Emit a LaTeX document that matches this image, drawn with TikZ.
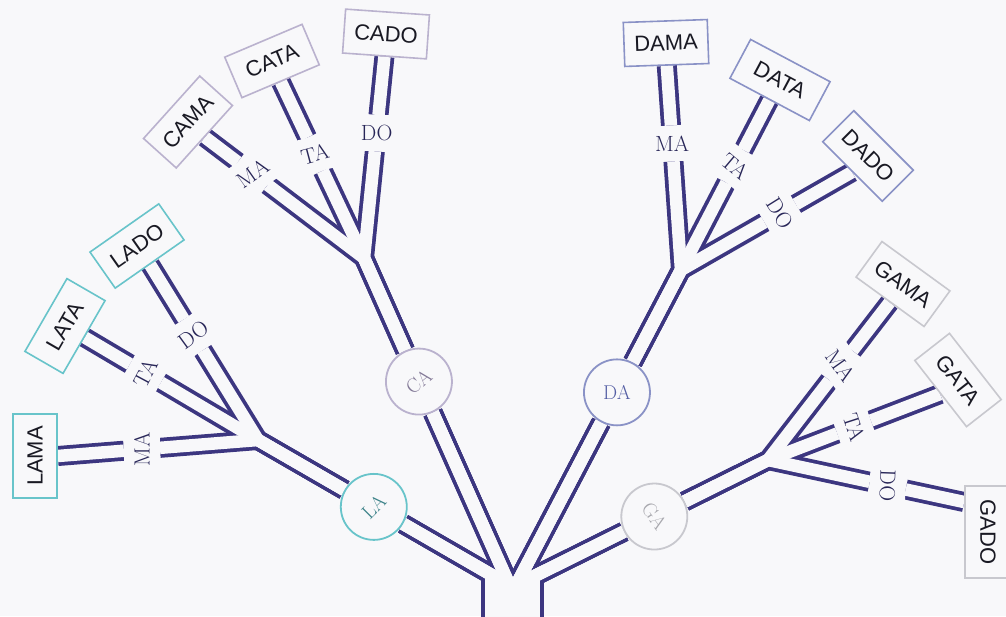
\documentclass[tikz,border=0pt]{standalone}
\usepackage{fontspec}
\newfontfamily\boxfont{Liberation Sans}
\usetikzlibrary{calc}
\pgfdeclarelayer{roadlayer}
\pgfsetlayers{roadlayer,main}
\definecolor{paper}{RGB}{248,248,250}
\definecolor{ink}{RGB}{60,54,128}
\definecolor{lacol}{RGB}{104,196,202}
\definecolor{cacol}{RGB}{186,178,206}
\definecolor{dacol}{RGB}{138,146,198}
\definecolor{gacol}{RGB}{200,200,206}
\definecolor{latext}{RGB}{60,130,136}
\definecolor{catext}{RGB}{130,120,150}
\definecolor{datext}{RGB}{84,94,164}
\definecolor{gatext}{RGB}{168,168,174}
\definecolor{boxtext}{RGB}{25,25,35}
\definecolor{labcol}{RGB}{40,38,88}
\tikzset{
  navyroad/.style={draw=ink, line width=20pt, line cap=butt, line join=round},
  paperroad/.style={draw=paper, line width=12.5pt, line cap=butt, line join=round},
  trunknavy/.style={draw=ink, line width=63pt, line cap=butt},
  trunkpaper/.style={draw=paper, line width=55.5pt, line cap=butt},
  leaf/.style={draw=#1, line width=1.6pt, fill=paper, minimum width=84pt, minimum height=44pt, inner sep=2pt, text=boxtext, font=\boxfont\fontsize{22}{24}\selectfont},
  hub/.style={circle, draw=#1, line width=1.8pt, fill=paper, minimum size=66pt, inner sep=0pt, font=\fontsize{20}{22}\selectfont},
  roadlab/.style={fill=paper, inner xsep=2pt, inner ysep=10pt, text=labcol, font=\fontsize{22}{24}\selectfont},
}
\newcommand\roadnet[1]{%
  \draw[#1] (j2) -- (la) -- (fla) -- (lmaL) -- (lama.south);
  \draw[#1] (j2) -- (la) -- (fla) -- (ltaL) -- (lata.south);
  \draw[#1] (j2) -- (la) -- (fla) -- (ldoL) -- (lado.south);
  \draw[#1] (j1) -- (ca) -- (fca) -- (cmaL) -- (cama.south);
  \draw[#1] (j1) -- (ca) -- (fca) -- (ctaL) -- (cata.south);
  \draw[#1] (j1) -- (ca) -- (fca) -- (cdoL) -- (cado.south);
  \draw[#1] (j1) -- (da) -- (fda) -- (dmaL) -- (dama.south);
  \draw[#1] (j1) -- (da) -- (fda) -- (dtaL) -- (data.south);
  \draw[#1] (j1) -- (da) -- (fda) -- (ddoL) -- (dado.south);
  \draw[#1] (j2) -- (ga) -- (fga) -- (gmaL) -- (gama.south);
  \draw[#1] (j2) -- (ga) -- (fga) -- (gtaL) -- (gata.south);
  \draw[#1] (j2) -- (ga) -- (fga) -- (gdoL) -- (gadoin);
}
\begin{document}
\begin{tikzpicture}[x=1pt,y=-1pt]
\useasboundingbox (0,0) rectangle (1006,616);
% junctions and forks
\coordinate (tb) at (512.5,640);
\coordinate (tt) at (512.5,578);
\coordinate (j1) at (512.5,592);
\coordinate (j2) at (512.5,587);
\coordinate (fla) at (258,440);
\coordinate (fca) at (364,258);
\coordinate (fda) at (681,270);
\coordinate (fga) at (768,460);
% hubs
\node[hub=lacol, text=latext, rotate=45] (la) at ($(j2)!0.545!(fla)$) {LA};
\node[hub=cacol, text=catext, rotate=40] (ca) at ($(j1)!0.63!(fca)$) {CA};
\node[hub=dacol, text=datext] (da) at ($(j1)!0.62!(fda)$) {DA};
\node[hub=gacol, text=gatext, rotate=-55] (ga) at ($(j2)!0.555!(fga)$) {GA};
% leaves
\node[leaf=lacol, rotate=90] (lama) at (35,456) {LAMA};
\node[leaf=lacol, rotate=60] (lata) at (65,326) {LATA};
\node[leaf=lacol, rotate=35] (lado) at (137,246) {LADO};
\node[leaf=cacol, rotate=48] (cama) at (188,122) {CAMA};
\node[leaf=cacol, rotate=23] (cata) at (272,61) {CATA};
\node[leaf=cacol, rotate=-4] (cado) at (386,34) {CADO};
\node[leaf=dacol, rotate=2] (dama) at (666,43) {DAMA};
\node[leaf=dacol, rotate=-28, minimum width=90pt] (data) at (780,80) {DATA};
\node[leaf=dacol, rotate=-45] (dado) at (868,156) {DADO};
\node[leaf=gacol, rotate=-36] (gama) at (903,284) {GAMA};
\node[leaf=gacol, rotate=-52] (gata) at (958,380) {GATA};
\node[leaf=gacol, rotate=-90, minimum width=92pt, minimum height=46pt] (gado) at (988,532) {GADO};
\coordinate (gadoin) at ($(gado.south west)!0.18!(gado.south east)$);
% road labels
\node[roadlab, rotate=90] (lmaL) at ($(fla)!0.58!(lama.south)$) {MA};
\node[roadlab, rotate=62] (ltaL) at ($(fla)!0.65!(lata.south)$) {TA};
\node[roadlab, rotate=36] (ldoL) at ($(fla)!0.6!(lado.south)$) {DO};
\node[roadlab, rotate=35] (cmaL) at ($(fca)!0.7!(cama.south)$) {MA};
\node[roadlab, rotate=15] (ctaL) at ($(fca)!0.59!(cata.south)$) {TA};
\node[roadlab, rotate=0] (cdoL) at ($(fca)!0.62!(cado.south)$) {DO};
\node[roadlab, rotate=0] (dmaL) at ($(fda)!0.62!(dama.south)$) {MA};
\node[roadlab, rotate=-40] (dtaL) at ($(fda)!0.61!(data.south)$) {TA};
\node[roadlab, rotate=-58] (ddoL) at ($(fda)!0.58!(dado.south)$) {DO};
\node[roadlab, rotate=-55] (gmaL) at ($(fga)!0.6!(gama.south)$) {MA};
\node[roadlab, rotate=-72] (gtaL) at ($(fga)!0.5!(gata.south)$) {TA};
\node[roadlab, rotate=-92] (gdoL) at ($(fga)!0.61!(gadoin)$) {DO};
% roads
\begin{pgfonlayer}{roadlayer}
  \fill[paper] (0,0) rectangle (1006,616);
  \draw[trunknavy] (tb) -- (tt);
  \roadnet{navyroad}
  \draw[trunkpaper] (tb) -- (tt);
  \roadnet{paperroad}
\end{pgfonlayer}
\end{tikzpicture}
\end{document}
